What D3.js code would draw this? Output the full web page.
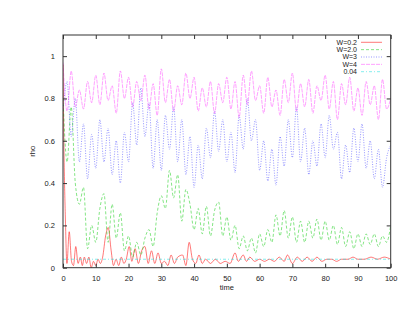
<!DOCTYPE html>
<html>
<head>
<meta charset="utf-8">
<script src="https://d3js.org/d3.v7.min.js"></script>
<style>
body { margin: 0; background: #fff; }
text { font-family: "Liberation Sans", Arial, sans-serif; font-size: 7.5px; fill: #222; }
</style>
</head>
<body>
<svg width="415" height="321"></svg>
<script>
// sample times shared by W=2.0, W=3, W=4
var tGrid = d3.range(0, 100.001, 1.25);

var w4 = [0.97,0.74,0.93,0.76,0.84,0.75,0.88,0.78,0.91,0.77,
          0.92,0.79,0.86,0.73,0.93,0.80,0.90,0.76,0.88,0.79,
          0.91,0.75,0.87,0.72,0.94,0.78,0.89,0.74,0.86,0.77,
          0.92,0.80,0.90,0.74,0.85,0.76,0.88,0.73,0.87,0.78,
          0.90,0.75,0.88,0.71,0.91,0.77,0.93,0.79,0.86,0.73,
          0.90,0.76,0.84,0.72,0.89,0.78,0.92,0.74,0.87,0.76,
          0.89,0.73,0.86,0.79,0.91,0.75,0.88,0.70,0.87,0.77,
          0.90,0.74,0.85,0.72,0.88,0.77,0.86,0.70,0.89,0.75,0.80];

var w3 = [0.74,0.88,0.62,0.80,0.50,0.68,0.42,0.63,0.47,0.70,
          0.50,0.66,0.44,0.60,0.40,0.64,0.50,0.78,0.58,0.85,
          0.62,0.78,0.47,0.70,0.46,0.72,0.56,0.76,0.50,0.70,
          0.44,0.62,0.38,0.58,0.42,0.66,0.52,0.74,0.55,0.70,
          0.50,0.64,0.45,0.72,0.56,0.80,0.60,0.70,0.46,0.60,
          0.41,0.56,0.39,0.62,0.48,0.70,0.52,0.76,0.50,0.66,
          0.44,0.60,0.48,0.68,0.52,0.72,0.56,0.64,0.42,0.58,
          0.45,0.66,0.50,0.68,0.47,0.60,0.42,0.56,0.38,0.52,0.58];

var w2 = [0.80,0.50,0.76,0.40,0.30,0.38,0.09,0.20,0.12,0.28,
          0.35,0.12,0.30,0.14,0.26,0.08,0.15,0.05,0.12,0.06,
          0.14,0.18,0.10,0.26,0.34,0.28,0.46,0.33,0.44,0.22,
          0.37,0.30,0.18,0.28,0.16,0.29,0.15,0.27,0.31,0.15,
          0.24,0.13,0.20,0.09,0.15,0.08,0.14,0.07,0.16,0.10,
          0.18,0.12,0.25,0.15,0.27,0.14,0.24,0.12,0.22,0.12,
          0.22,0.14,0.23,0.13,0.22,0.13,0.20,0.11,0.19,0.10,
          0.17,0.09,0.16,0.10,0.16,0.11,0.16,0.10,0.15,0.12,0.20];

// W=0.2 needs finer sampling near t=0
var w02T = [0,0.3,0.7,1.2,1.9,2.6,3.2,3.9,4.6,5.3,5.9,6.5,7.2,7.9,8.6,9.3,10,10.7,11.4,12.1,
            13,13.8,14.7,15.4,16.2,17,17.8,18.6,19.3,20.2,21,22,23,24,25,26,27,28,29,30,
            31,32,33,34,35,36.5,37.5,38.5,39.5,40.5,41.5,42.5,43.5,45,46.5,48,49.5,51,52.5,53.5,
            55,56,57,58.5,60,61.5,63,64.5,66,67.5,68.5,70,71.5,73,74.5,76,77.5,79,80.5,82,
            83.5,85,87,88.5,90,92,94,96,98,100];
var w02 = [0.96,0.55,0.25,0.02,0.17,0.03,0.01,0.10,0.02,0.05,0.01,0.05,0.02,0.05,0.00,0.03,0.01,0.04,0.02,0.05,
           0.15,0.19,0.08,0.01,0.04,0.01,0.05,0.02,0.04,0.10,0.03,0.09,0.02,0.08,0.10,0.02,0.08,0.02,0.07,0.02,
           0.03,0.01,0.06,0.02,0.05,0.06,0.01,0.12,0.04,0.02,0.06,0.02,0.04,0.02,0.04,0.02,0.03,0.02,0.07,0.03,
           0.06,0.03,0.05,0.03,0.04,0.03,0.04,0.03,0.05,0.03,0.06,0.02,0.05,0.03,0.05,0.03,0.05,0.03,0.04,0.04,
           0.03,0.04,0.04,0.05,0.04,0.04,0.05,0.04,0.05,0.04];

var constT = [0, 100];
var constV = [0.04, 0.04];

var legendNames = ["W=0.2", "W=2.0", "W=3", "W=4", "0.04"];
var xTicks = [0,10,20,30,40,50,60,70,80,90,100];
var yTicks = [0,0.2,0.4,0.6,0.8,1];

var svg = d3.select("svg"),
	pLeft = 63, pRight = 390.7, pTop = 35, pBottom = 267.7;

var x = d3.scaleLinear().domain([0, 100]).range([pLeft, pRight]),
	y = d3.scaleLinear().domain([0, 1.1]).range([pBottom, pTop]);

function pairs(ts, vs) {
	return ts.map(function(t, i) { return [t, vs[i]]; });
}

var series = [
	{name: legendNames[0], pts: pairs(w02T, w02), color: "#ff2020", op: 0.6, dash: null},
	{name: legendNames[1], pts: pairs(tGrid, w2), color: "#20d020", op: 0.55, dash: "3,2"},
	{name: legendNames[2], pts: pairs(tGrid, w3), color: "#3030ff", op: 0.5, dash: "1,1.5"},
	{name: legendNames[3], pts: pairs(tGrid, w4), color: "#ff30ff", op: 0.45, dash: "4,1"},
	{name: legendNames[4], pts: pairs(constT, constV), color: "#20e0e0", op: 0.55, dash: "3,2,1,2"}
];

svg.append("clipPath").attr("id", "plot")
	.append("rect")
	.attr("x", pLeft).attr("y", pTop)
	.attr("width", pRight - pLeft).attr("height", pBottom - pTop);

var line = d3.line()
	.x(function(d) { return x(d[0]); })
	.y(function(d) { return y(d[1]); })
	.curve(d3.curveMonotoneX);

var g = svg.append("g").attr("clip-path", "url(#plot)");
g.selectAll("path")
	.data(series)
	.enter().append("path")
	.attr("d", function(d) { return line(d.pts); })
	.attr("fill", "none")
	.attr("stroke", function(d) { return d.color; })
	.attr("stroke-opacity", function(d) { return d.op; })
	.attr("stroke-width", 1)
	.attr("stroke-dasharray", function(d) { return d.dash; });

// axes: ticks inward, mirrored on top and right
var tl = 4;
svg.append("g")
	.attr("transform", "translate(0," + pBottom + ")")
	.call(d3.axisBottom(x).tickValues(xTicks).tickSize(-tl).tickPadding(tl + 4).tickFormat(d3.format("d")))
	.call(function(a) { a.select(".domain").remove(); });
svg.append("g")
	.attr("transform", "translate(0," + pTop + ")")
	.call(d3.axisTop(x).tickValues(xTicks).tickSize(-tl).tickFormat(""))
	.call(function(a) { a.select(".domain").remove(); });
svg.append("g")
	.attr("transform", "translate(" + pLeft + ",0)")
	.call(d3.axisLeft(y).tickValues(yTicks).tickSize(-tl).tickPadding(tl + 4).tickFormat(d3.format("")))
	.call(function(a) { a.select(".domain").remove(); });
svg.append("g")
	.attr("transform", "translate(" + pRight + ",0)")
	.call(d3.axisRight(y).tickValues(yTicks).tickSize(-tl).tickFormat(""))
	.call(function(a) { a.select(".domain").remove(); });

svg.selectAll(".tick line").attr("stroke", "#333");
svg.selectAll(".tick text").style("font-size", "7.5px").style("fill", "#222");

svg.append("rect")
	.attr("x", pLeft).attr("y", pTop)
	.attr("width", pRight - pLeft).attr("height", pBottom - pTop)
	.attr("fill", "none")
	.attr("stroke", "#333")
	.attr("stroke-width", 1);

svg.append("text")
	.attr("x", (pLeft + pRight) / 2)
	.attr("y", 290)
	.attr("text-anchor", "middle")
	.text("time");

svg.append("text")
	.attr("transform", "translate(35," + ((pTop + pBottom) / 2) + ") rotate(-90)")
	.attr("text-anchor", "middle")
	.text("rho");

// legend
var lg = svg.append("g").selectAll("g")
	.data(series)
	.enter().append("g")
	.attr("transform", function(d, i) { return "translate(0," + (42.3 + i * 7.35) + ")"; });
lg.append("text")
	.attr("x", 357).attr("dy", "0.35em")
	.attr("text-anchor", "end")
	.style("font-size", "7px")
	.text(function(d) { return d.name; });
lg.append("line")
	.attr("x1", 361).attr("x2", 382)
	.attr("stroke", function(d) { return d.color; })
	.attr("stroke-opacity", function(d) { return d.op; })
	.attr("stroke-dasharray", function(d) { return d.dash; });
</script>
</body>
</html>
